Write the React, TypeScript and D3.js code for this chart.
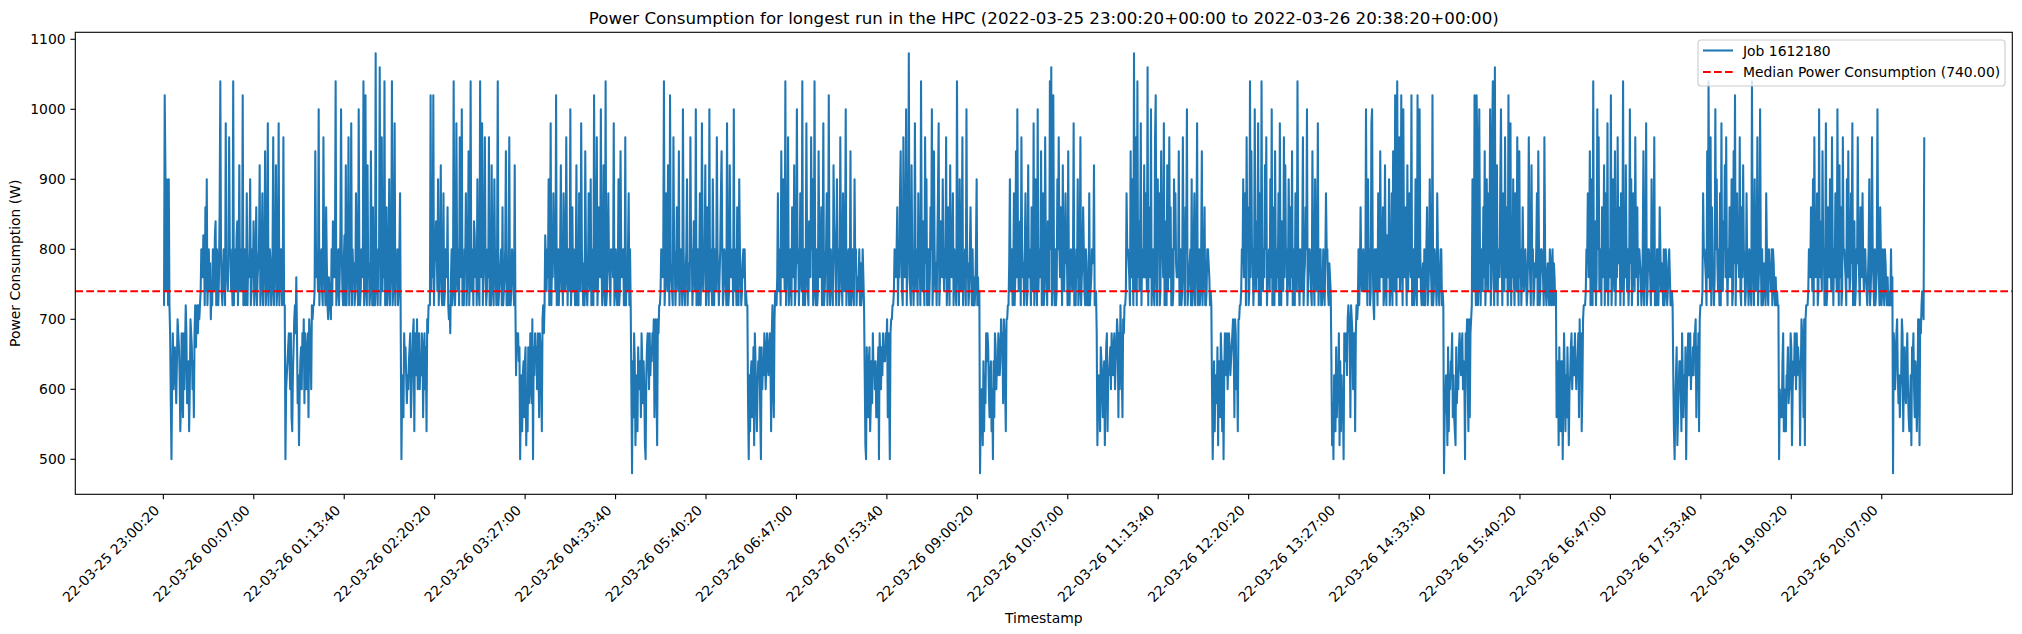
import React from 'react';
import * as d3 from 'd3';

const chartTitle =
  'Power Consumption for longest run in the HPC (2022-03-25 23:00:20+00:00 to 2022-03-26 20:38:20+00:00)';
const jobLabel = 'Job 1612180';
const medianPower = 740;
const medianLabel = `Median Power Consumption (${medianPower.toFixed(2)})`;

// first and last sample of the run
const startStamp = '22-03-25 23:00:20';
const endStamp = '22-03-26 20:38:20';

const yTicks = [500, 600, 700, 800, 900, 1000, 1100];
const xTickLabels = [
  '22-03-25 23:00:20', '22-03-26 00:07:00', '22-03-26 01:13:40', '22-03-26 02:20:20',
  '22-03-26 03:27:00', '22-03-26 04:33:40', '22-03-26 05:40:20', '22-03-26 06:47:00',
  '22-03-26 07:53:40', '22-03-26 09:00:20', '22-03-26 10:07:00', '22-03-26 11:13:40',
  '22-03-26 12:20:20', '22-03-26 13:27:00', '22-03-26 14:33:40', '22-03-26 15:40:20',
  '22-03-26 16:47:00', '22-03-26 17:53:40', '22-03-26 19:00:20', '22-03-26 20:07:00',
];

// power levels in W, one letter per level ('a' = 480 ... 'E' = 1080)
const levelKeys = 'abcdefghijklmnopqrstuvwxyzABCDE';
const powerLevels = [
  480, 500, 520, 540, 560, 580, 600, 620, 640, 660, 680, 700, 720, 740, 760, 780,
  800, 820, 840, 860, 880, 900, 920, 940, 960, 980, 1000, 1020, 1040, 1060, 1080,
];

// one letter per 30 s sample (spaces only group them):
// busy stretches, each followed by one of the idle dips below
const busyRuns = [
  'mmBwnvumvm',
  'mnqporqmtn vmoqnplnmq onrsmqpmot Cqnmoqpmzo onpyqqnomC mqonrsmpwn oqnBmpqmnu mpoqvmnqos mnqtmopqwm nqumopxmnq zmoqpmnqym opwmnqzmoq qmnymm',
  'mnxqopnAmo pqnmyqomtp mlonmlqmso oqCmnpqmor Aqnmprmwmo qympnzmqop mnuqomApmn qpoCmqBnmw opmnxqmtmo mEonmqpDmo ynqoCmptmn qvmopCmnqz mpoqmnqu',
  'mmBnqoBmpq sqnvmopwnm oumnqpotml mkoqmnCpmo zqnqmyroAm nmqpumoqxm oCnqpmsroq mvpnmCqozm oqypmnqoym pmwqnmvpom qCmnopqmtm noqxmpmqym mnqpomwm',
  'mrpnqovmoz mpoupqnBmo qmoqwnpmuq noyqmqpnAm otnqompwmq mupnzqompm xqnmoupnvm oqmBpnqymo tqoApmnwqm Cmnqupomqp qozmnqomov mnxqopqmmy monqumqm',
  'mnqpoqCmou pnwqmBponm yqpmotqnxm oqpmAqnmoq vmponyqqmo sqnAmpqmou mozqnpqwmo tpmAnqomvq mqpnyqomoq uxqmnqpomz omnwqopqmA nqomtpmvqo mnpqoqmnmm',
  'mounpqmxqo vqnCmopymn qpmtqowmnq ApqmoupnCm oqmozqnmsp oyqvmnCpmq mnxqoptmqz mnpqumoBpm qonmwsqomv pqmnyqomuq nqAmopqmox mnqomvpqmo noqmpmnqom',
  'mnqpoqtmpo uxqnmypoqA mqpEonmwqo mozpnqmuoq mCqnsomypv mpqmotqAmo xqnpmquzmo spovqnqoym otqmwpopum qpnmCqomvp nqymopqmAo pmnqtpmqmo mnqvmomn',
  'mpvnqqmoum oxoAqnpsmy qopmquomnw oqpmtqnzmo vqmAnpqoxm qumnyqomsp nCqDmoBpmq mnvqyqotpm wonqupqmxo mpqonpzmom qovmnqymop tqnmqpmomu mnoqqpwmmn',
  'mnuqqpomxo vqmEnpymCo snqzmqpowo uqnDmtqoAm pqnmyBomvq umnxqqozms pmwnqyotmq mnvqupopox mpqmnyqomt qAmnopqmvm nqumoqzmpq mnqxmoptmm nqqpomnm',
  'mnqpvoqumy qtmnCoxpqm oAqnsozmuq mCpnqowqym opqnvoAmtq mxpnqoumzo msqnyowpqm ovqntoxmpq mupnCqomqp nqymoptqAm oqqpnmxqom vqnpzmoqqm mnqompuqqn mpon',
  'qmotpnoqno nAqmvpqmnz Apmlqnqpmu onxqoptmnw pmrqovmnqu mxqnBpmCqo ynqBpmAqot pmwnqupoBm oqmnvqmBpo Aqnmopmqmo qtmnpvqomB mnqpomuqnm oqqmnm',
  'vqnBpmBymo Aqmqpntoxm ovqnupAmoy CpmDnqwmqo ovAqmupnyo tqmBpnzmqo vomuqnypmx oqmotpnpqo mnqyqomwpq mnpoqumxqm nqqpomyqnm opnmqpmoqm pomn',
  'mnqpuoqxmv pmCnqsmoAq ynpqmtoqwm uqnzmpqoBm ovqnxmqoyp tqmunpCmso wqnqmoApvm oupnyqotmq qpomnqxmoq zmnqqpomvo nqympmqqmo tqnpomqmnq omnpqommnm',
  'mnuqqpomxo Cqnymtpomo Aqvpnqmumz onsqwoypmq otqovmnxpB mqupqoynmt owqpmnupom qpnmCqomvo nqymopAqmq mnpomuqnmq opnqmqpnmo mnmm',
  'mnqpotqnvm yqopumnAos pnxqqmozmn tqovpnyqmq oupnAqmwot mnyqqpomvo xqnoupzmps mnqpyqomtq oupnqqonmo qvmnpyqomq mnpAqomtqm nqomqpnmom mnmqmo',
];
const idleRuns = [
  'kfbhkgijhf ilkjhdfkie kgjmkfhidg lkjgiekmjl mkml',
  'bghijkigke dhjlmkokfh cgijgkilfk hgjkelkjgm lm',
  'kbghekijhf hgijkegikl dkihlgjkgi hkjeikgjdl km',
  'hkjkijbfhd hieijcgdjf gkhflbjhki jgkiekjhdl mk',
  'gaiekicfhd jhgiekifig cbhjkigkhj ikjleklgcl km',
  'fbhdhiegjc kifdgihjeb jgihkjgiki hjkidkmgel nm',
  'hcbjgeijdf ifkhigieeh jbkigjhkij ikjlekgbkl lm',
  'aeggcidhfk ikjgehidgb iekjgihkjh iljkflkgdl lm',
  'kcfhgdjige hicgjkdhhi jgkihjkgij lkekgmjhel km',
  'gbeidhhfjc igekidibhk jhkgikjhij kljelkgidl lm',
  'icfbhhdjeg gkcidhffbk ijkhlmlkem lkgjkdkmlm',
  'aefhgcjdhg iikehedcjf hgjkihjkgi hbkjlgdlek lm',
  'ehicjfdiib gkhdhejgcg hjkgijhkig iikelhkdgl mm',
  'hdbfhjcegi igdkhehfjb gikhjkgihj hkklejgkdl mm',
  'bgeeeikdgd dhhjfggkjc gihkjgkhji ichlkjelcl mm',
  'akjgiklhfh eghlkdhjgf ikgedfhcji kgeihdflkc lkmnmly',
];

const W = 2022;
const H = 634;
const plot = { left: 75.3, right: 2012.3, top: 32.3, bottom: 494.3 };
const font = '"DejaVu Sans", sans-serif';
const blue = '#1f77b4';

const parseStamp = d3.utcParse('%y-%m-%d %H:%M:%S');

interface Sample {
  t: Date;
  w: number;
}

const App: React.FC = () => {
  const tStart = (parseStamp(startStamp) as Date).getTime();
  const tEnd = (parseStamp(endStamp) as Date).getTime();
  const letters = idleRuns
    .map((d, i) => busyRuns[i] + d)
    .join('')
    .replace(/\s/g, '');
  // samples are evenly spread over the run
  const step = (tEnd - tStart) / (letters.length - 1);
  const samples: Sample[] = letters.split('').map((ch, i) => ({
    t: new Date(tStart + i * step),
    w: powerLevels[levelKeys.indexOf(ch)],
  }));

  const pad = (tEnd - tStart) * 0.05;
  const x = d3
    .scaleUtc()
    .domain([new Date(tStart - pad), new Date(tEnd + pad)])
    .range([plot.left, plot.right]);
  const y = d3.scaleLinear().domain([450, 1110]).range([plot.bottom, plot.top]);

  const line = d3
    .line<Sample>()
    .x(d => x(d.t))
    .y(d => y(d.w));

  const xTicks = xTickLabels.map(s => ({ label: s, t: parseStamp(s) as Date }));
  const midX = (plot.left + plot.right) / 2;
  const midY = (plot.top + plot.bottom) / 2;
  const legendX = 1698;
  const legendY = 40;

  return (
    <svg
      width={W}
      height={H}
      viewBox={`0 0 ${W} ${H}`}
      style={{ position: 'absolute', left: 0, top: 0, background: '#fff' }}
      fontFamily={font}
    >
      <rect width={W} height={H} fill="#fff" />
      <defs>
        <clipPath id="plot-clip">
          <rect
            x={plot.left}
            y={plot.top}
            width={plot.right - plot.left}
            height={plot.bottom - plot.top}
          />
        </clipPath>
      </defs>

      <g clipPath="url(#plot-clip)">
        <path
          d={line(samples) || ''}
          fill="none"
          stroke={blue}
          strokeWidth={2.08}
          strokeLinejoin="round"
        />
        <line
          x1={plot.left}
          x2={plot.right}
          y1={y(medianPower)}
          y2={y(medianPower)}
          stroke="#ff0000"
          strokeWidth={2.08}
          strokeDasharray="7.7 3.3"
        />
      </g>

      {/* axes frame */}
      <rect
        x={plot.left}
        y={plot.top}
        width={plot.right - plot.left}
        height={plot.bottom - plot.top}
        fill="none"
        stroke="#000"
        strokeWidth={1.1}
      />

      {/* y axis */}
      {yTicks.map(v => (
        <g key={v}>
          <line x1={plot.left - 4.9} x2={plot.left} y1={y(v)} y2={y(v)} stroke="#000" strokeWidth={1.1} />
          <text
            x={plot.left - 9.7}
            y={y(v)}
            textAnchor="end"
            dominantBaseline="central"
            fontSize={13.9}
            fill="#000"
          >
            {v}
          </text>
        </g>
      ))}

      {/* x axis */}
      {xTicks.map(d => {
        const tx = x(d.t);
        return (
          <g key={d.label}>
            <line x1={tx} x2={tx} y1={plot.bottom} y2={plot.bottom + 4.9} stroke="#000" strokeWidth={1.1} />
            <text
              transform={`translate(${tx - 3},${plot.bottom + 17}) rotate(-45)`}
              textAnchor="end"
              fontSize={13.9}
              fill="#000"
            >
              {d.label}
            </text>
          </g>
        );
      })}

      <text x={midX} y={24} textAnchor="middle" fontSize={16.67} fill="#000">
        {chartTitle}
      </text>
      <text x={midX} y={623} textAnchor="middle" fontSize={13.9} fill="#000">
        Timestamp
      </text>
      <text
        transform={`translate(20,${midY}) rotate(-90)`}
        textAnchor="middle"
        fontSize={13.9}
        fill="#000"
      >
        Power Consumption (W)
      </text>

      {/* legend */}
      <g>
        <rect
          x={legendX}
          y={legendY}
          width={307}
          height={46}
          rx={3}
          fill="#fff"
          fillOpacity={0.8}
          stroke="#cccccc"
          strokeWidth={1.1}
        />
        <line x1={legendX + 5} x2={legendX + 35} y1={legendY + 10.5} y2={legendY + 10.5} stroke={blue} strokeWidth={2.08} />
        <text x={legendX + 45} y={legendY + 10.5} dominantBaseline="central" fontSize={13.9} fill="#000">
          {jobLabel}
        </text>
        <line
          x1={legendX + 5}
          x2={legendX + 35}
          y1={legendY + 32}
          y2={legendY + 32}
          stroke="#ff0000"
          strokeWidth={2.08}
          strokeDasharray="7.7 3.3"
        />
        <text x={legendX + 45} y={legendY + 32} dominantBaseline="central" fontSize={13.9} fill="#000">
          {medianLabel}
        </text>
      </g>
    </svg>
  );
};

export default App;
